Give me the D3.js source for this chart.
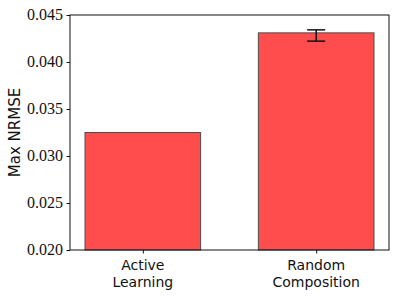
<!DOCTYPE html>
<html>
<head>
<meta charset="utf-8">
<script src="https://d3js.org/d3.v7.min.js"></script>
<style>
  body { margin: 0; background: #fff; }
</style>
</head>
<body>
<svg id="chart" width="399" height="299"></svg>
<script>
// values
var methods = [["Active", "Learning"], ["Random", "Composition"]];
var maxNrmse = [0.0325, 0.0431];
var errLow = [null, 0.04222];
var errHigh = [null, 0.04342];
var yTicks = [0.020, 0.025, 0.030, 0.035, 0.040, 0.045];

var svg = d3.select("#chart");
var plotL = 70, plotR = 389, plotT = 15, plotB = 250;

var x = d3.scaleLinear().domain([-0.42, 1.42]).range([plotL, plotR]);
var y = d3.scaleLinear().domain([0.020, 0.045]).range([plotB, plotT]);
var barW = 0.667;

// bars
svg.selectAll("rect.bar")
    .data(maxNrmse)
    .enter()
    .append("rect")
    .attr("class", "bar")
    .attr("x", function(d, i) { return x(i - barW / 2); })
    .attr("width", function() { return x(barW) - x(0); })
    .attr("y", function(d) { return y(d); })
    .attr("height", function(d) { return y(0.020) - y(d); })
    .attr("fill", "#ff4d4d")
    .attr("stroke", "#4d4d4d")
    .attr("stroke-width", 1);

// error bars
var errs = maxNrmse.map(function(d, i) { return {i: i, lo: errLow[i], hi: errHigh[i]}; })
    .filter(function(d) { return d.lo != null; });
var eg = svg.selectAll("g.err").data(errs).enter().append("g").attr("class", "err")
    .attr("stroke", "#111").attr("stroke-width", 1.5);
eg.append("line")
    .attr("x1", function(d) { return x(d.i); }).attr("x2", function(d) { return x(d.i); })
    .attr("y1", function(d) { return y(d.lo); }).attr("y2", function(d) { return y(d.hi); });
[ "lo", "hi" ].forEach(function(k) {
  eg.append("line")
      .attr("x1", function(d) { return x(d.i) - 9; }).attr("x2", function(d) { return x(d.i) + 9; })
      .attr("y1", function(d) { return y(d[k]); }).attr("y2", function(d) { return y(d[k]); });
});

// y axis: ticks from d3.axis, labels as serif text
var yAxis = d3.axisLeft(y).tickValues(yTicks).tickFormat("").tickSizeInner(3.5).tickSizeOuter(0);
var ya = svg.append("g").attr("transform", "translate(" + plotL + ",0)").call(yAxis);
ya.select(".domain").remove();
ya.selectAll("line").attr("stroke", "#111");

svg.selectAll("text.ylab")
    .data(yTicks)
    .enter()
    .append("text")
    .attr("class", "ylab")
    .attr("x", plotL - 7)
    .attr("y", function(d) { return y(d); })
    .attr("dy", "0.34em")
    .attr("text-anchor", "end")
    .style("font-family", "'Liberation Serif', 'Times New Roman', serif")
    .style("font-size", "16px")
    .attr("fill", "#111")
    .text(d3.format(".3f"));

// x axis
var xAxis = d3.axisBottom(x).tickValues([0, 1]).tickFormat("").tickSizeInner(3.5).tickSizeOuter(0);
var xa = svg.append("g").attr("transform", "translate(0," + plotB + ")").call(xAxis);
xa.select(".domain").remove();
xa.selectAll("line").attr("stroke", "#111");

svg.selectAll("text.xlab")
    .data(methods)
    .enter()
    .append("text")
    .attr("class", "xlab")
    .attr("text-anchor", "middle")
    .attr("font-family", "DejaVu Sans")
    .attr("font-size", 14)
    .attr("fill", "#111")
    .attr("transform", function(d, i) { return "translate(" + x(i) + ",270)"; })
    .selectAll("tspan")
    .data(function(d) { return d; })
    .enter()
    .append("tspan")
    .attr("x", 0)
    .attr("y", function(d, j) { return j * 17; })
    .text(function(d) { return d; });

// spines
svg.append("rect")
    .attr("x", plotL).attr("y", plotT)
    .attr("width", plotR - plotL).attr("height", plotB - plotT)
    .attr("fill", "none").attr("stroke", "#111").attr("stroke-width", 1);

// y label
svg.append("text")
    .attr("transform", "translate(20," + (plotT + plotB) / 2 + ") rotate(-90)")
    .attr("text-anchor", "middle")
    .attr("font-family", "DejaVu Sans")
    .attr("font-size", 15)
    .attr("fill", "#111")
    .text("Max NRMSE");
</script>
</body>
</html>
